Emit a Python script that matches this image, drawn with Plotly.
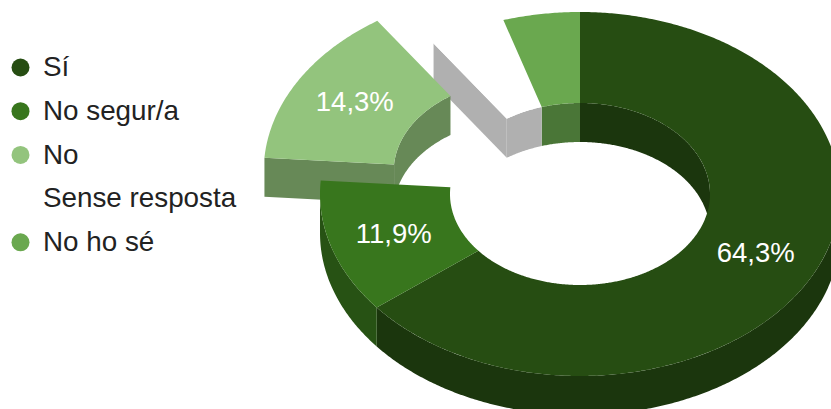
import math
import plotly.graph_objects as go

# --- data ---
categories = ["Sí", "No segur/a", "No", "Sense resposta", "No ho sé"]
values = [27, 5, 6, 2, 2]
colors = ["#264d12", "#38761d", "#93c47d", "#ffffff", "#6aa84f"]
wall_colors = ["#1b360d", "#275214", "#678957", "#b0b0b0", "#4a7637"]
explode = [0, 0, 0.25, 0, 0]

# --- geometry of the tilted ring ---
W, H = 831, 409
CX, CY, RX, RY = 580, 194, 260, 182
HOLE, DEPTH = 0.5, 39
LABEL_MIN_SHARE = 0.1
LABEL_DY, LEGEND_TEXT_DY = 1.5, 1.8

total = sum(values)
starts, ends = [], []
acc = 0
for v in values:
    starts.append(acc / total * 360)
    acc += v
    ends.append(acc / total * 360)


def offset(i):
    mid = math.radians((starts[i] + ends[i]) / 2)
    return RX * explode[i] * math.sin(mid), -RY * explode[i] * math.cos(mid)


def pt(i, ang, r, dz=0):
    a = math.radians(ang)
    ox, oy = offset(i)
    return CX + ox + RX * r * math.sin(a), CY + oy - RY * r * math.cos(a) + dz


def arc(i, a0, a1, r, dz=0):
    n = max(2, int(abs(a1 - a0) * 2))
    return [pt(i, a0 + (a1 - a0) * k / n, r, dz) for k in range(n + 1)]


def poly(pts, color, name):
    return go.Scatter(
        x=[p[0] for p in pts] + [pts[0][0]],
        y=[p[1] for p in pts] + [pts[0][1]],
        mode="none", fill="toself", fillcolor=color,
        name=name, hoverinfo="skip", showlegend=False,
    )


def top(i):
    return poly(arc(i, starts[i], ends[i], 1) + arc(i, ends[i], starts[i], HOLE), colors[i], categories[i])


def band(i, a0, a1, r):
    return poly(arc(i, a0, a1, r) + arc(i, a1, a0, r, DEPTH), wall_colors[i], categories[i] + " paret")


def radial(i, ang):
    p = [pt(i, ang, 1), pt(i, ang, HOLE), pt(i, ang, HOLE, DEPTH), pt(i, ang, 1, DEPTH)]
    return poly(p, wall_colors[i], categories[i] + " tall")


fig = go.Figure()

# inner walls seen through the hole (back half)
fig.add_trace(band(0, 0, 90, HOLE))
fig.add_trace(band(4, starts[4], 360, HOLE))
fig.add_trace(band(3, starts[3], ends[3], HOLE))
fig.add_trace(radial(3, starts[3]))
# exploded slice walls
fig.add_trace(band(2, starts[2], ends[2], HOLE))
fig.add_trace(radial(2, starts[2]))
# outer front walls
fig.add_trace(band(0, 90, ends[0], 1))
fig.add_trace(band(1, starts[1], 270, 1))
# top faces
for i in [3, 4, 0, 1, 2]:
    fig.add_trace(top(i))

# percentage labels
lx, ly, lt = [], [], []
for i, v in enumerate(values):
    if v / total >= LABEL_MIN_SHARE:
        x, y = pt(i, (starts[i] + ends[i]) / 2, (1 + HOLE) / 2)
        lx.append(x)
        ly.append(y + LABEL_DY)
        lt.append(f"{v / total * 100:.1f}%".replace(".", ","))
fig.add_trace(go.Scatter(
    x=lx, y=ly, text=lt, mode="text", textposition="middle center",
    textfont=dict(family="Liberation Sans", size=27.5, color="#ffffff"),
    hoverinfo="skip", showlegend=False,
))

# legend
LEG_X, LEG_TX, LEG_Y0, LEG_DY = 20.5, 43, 67.5, 43.7
leg_y = [LEG_Y0 + LEG_DY * k for k in range(len(categories))]
fig.add_trace(go.Scatter(
    x=[LEG_X] * len(categories), y=leg_y, mode="markers",
    marker=dict(size=18, color=colors, line=dict(width=0)),
    hoverinfo="skip", showlegend=False,
))
fig.add_trace(go.Scatter(
    x=[LEG_TX] * len(categories), y=[y + LEGEND_TEXT_DY for y in leg_y],
    text=categories, mode="text", textposition="middle right",
    textfont=dict(family="Liberation Sans", size=27.8, color="#222222"),
    hoverinfo="skip", showlegend=False,
))

fig.update_layout(
    width=W, height=H, margin=dict(l=0, r=0, t=0, b=0),
    paper_bgcolor="#ffffff", plot_bgcolor="#ffffff", showlegend=False,
    xaxis=dict(range=[0, W], visible=False, fixedrange=True),
    yaxis=dict(range=[H, 0], visible=False, fixedrange=True),
)
fig.write_html(
    "out.html",
    config={"displayModeBar": False},
    post_script="document.body.style.margin='0';document.documentElement.style.overflow='hidden';",
)
